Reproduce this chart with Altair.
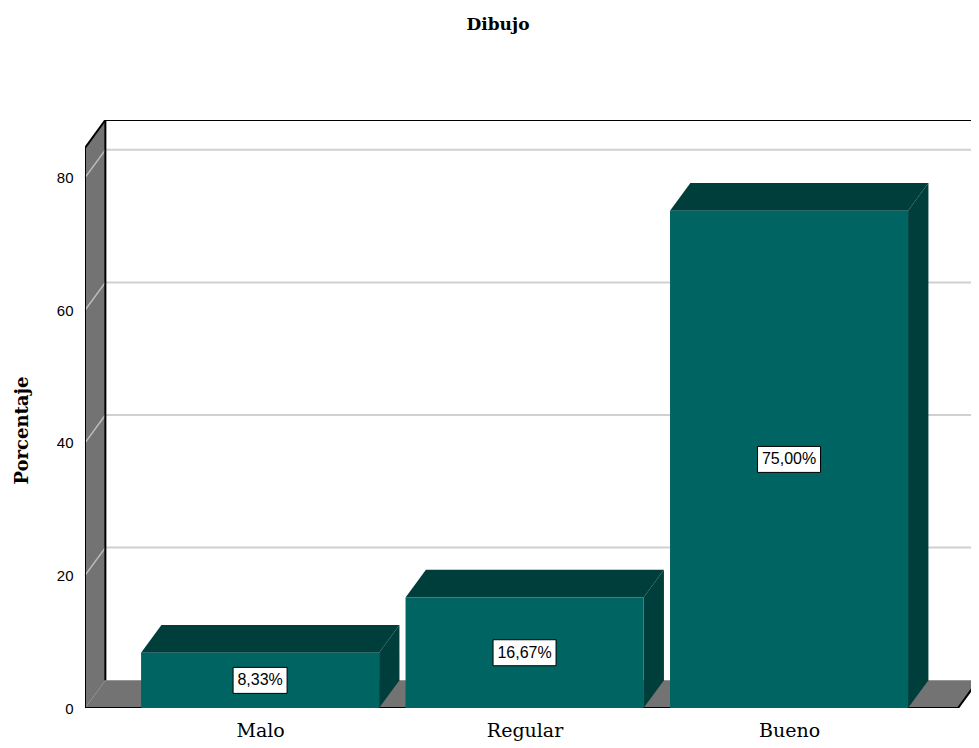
import json
import altair as alt
import pandas as pd

# ---- data ----
categories = ["Malo", "Regular", "Bueno"]
percentages = [8.33, 16.67, 75.00]
y_ticks = [0, 20, 40, 60, 80]
title_text = "Dibujo"
y_title = "Porcentaje"

# ---- geometry / style constants ----
W, H = 886, 588
XMIN, XMAX = -0.662, 2.688
YMAX = 88.7
DX = 0.077   # depth offset in x units (~20px)
DY = 4.2     # depth offset in y units (~28px)
HALF = 0.45
XW = XMIN
XF = 2.639
YTOP = YMAX - DY
PXX = W / (XMAX - XMIN)
PXY = H / YMAX

FRONT = "#006462"
DARK = "#003e3c"
WALL = "#737373"
GRID = "#d0d0d0"
SERIF = "DejaVu Serif"

xs = alt.Scale(domain=[XMIN, XMAX], nice=False, zero=False)
ys = alt.Scale(domain=[0, YMAX], nice=False, zero=False)


def X(f, **kw):
    kw.setdefault("axis", None)
    return alt.X(f, type="quantitative", scale=xs, stack=None, **kw)


def Y(f, **kw):
    kw.setdefault("axis", None)
    return alt.Y(f, type="quantitative", scale=ys, stack=None, **kw)


labels = [f"{v:.2f}".replace(".", ",") + "%" for v in percentages]

front_df = pd.DataFrame({
    "cat": categories,
    "x0": [i - HALF for i in range(len(categories))],
    "x1": [i + HALF for i in range(len(categories))],
    "v": percentages,
})

top_rows, side_rows = [], []
for i, (c, v) in enumerate(zip(categories, percentages)):
    top_rows.append({"cat": c, "y": v, "xa": i - HALF, "xb": i + HALF})
    top_rows.append({"cat": c, "y": v + DY, "xa": i - HALF + DX, "xb": i + HALF + DX})
    side_rows.append({"cat": c, "x": i + HALF, "ya": 0, "yb": v})
    side_rows.append({"cat": c, "x": i + HALF + DX, "ya": DY, "yb": v + DY})
top_df = pd.DataFrame(top_rows)
side_df = pd.DataFrame(side_rows)

wall_df = pd.DataFrame({"x": [XW, XW + DX], "ya": [0, DY], "yb": [YTOP, YMAX]})
floor_df = pd.DataFrame({"y": [0, DY], "xa": [XW, XW + DX], "xb": [XF, XF + DX]})

grid_back = pd.DataFrame({"x": XW + DX, "x2": XMAX, "y": [v + DY for v in y_ticks[1:]]})
grid_diag = pd.DataFrame({"x": XW, "x2": XW + DX,
                          "y": list(y_ticks[1:]), "y2": [v + DY for v in y_ticks[1:]]})

border_df = pd.DataFrame([
    {"x": XW + DX, "y": YMAX, "x2": XMAX, "y2": YMAX},
    {"x": XW + DX, "y": DY, "x2": XW + DX, "y2": YMAX},
    {"x": XW, "y": 0, "x2": XW, "y2": YTOP},
    {"x": XW, "y": YTOP, "x2": XW + DX, "y2": YMAX},
    {"x": XW, "y": 0, "x2": XF, "y2": 0},
    {"x": XF, "y": 0, "x2": XF + DX, "y2": DY},
])

lab_df = pd.DataFrame({
    "xc": list(range(len(categories))),
    "yc": [v / 2 for v in percentages],
    "xa": [i - (9 * len(t) + 9) / 2 / PXX for i, t in enumerate(labels)],
    "xb": [i + (9 * len(t) + 9) / 2 / PXX for i, t in enumerate(labels)],
    "ya": [v / 2 - 13 / PXY for v in percentages],
    "yb": [v / 2 + 13 / PXY for v in percentages],
    "label": labels,
})

# ---- layers ----
gback = alt.Chart(grid_back).mark_rule(color=GRID, strokeWidth=2, clip=True).encode(
    x=X("x"), x2="x2", y=Y("y"))

wall = alt.Chart(wall_df).mark_area(color=WALL, opacity=1).encode(
    x=X("x"),
    y=Y("ya", axis=alt.Axis(values=y_ticks, title=y_title, grid=False, domain=False,
                            ticks=False, labelPadding=12, labelFont="Liberation Sans",
                            labelFontSize=15, labelColor="black",
                            titleFont=SERIF, titleFontSize=18,
                            titleFontWeight="bold", titleColor="black",
                            titleX=-63, titleY=310, titleBaseline="middle",
                            titleAlign="center")),
    y2="yb")

gdiag = alt.Chart(grid_diag).mark_rule(color="#bdbdbd", strokeWidth=1.5).encode(
    x=X("x"), x2="x2", y=Y("y"), y2="y2")

floor = alt.Chart(floor_df).mark_area(color=WALL, opacity=1, orient="horizontal", clip=True).encode(
    y=Y("y"), x=X("xa"), x2="xb")

borders = alt.Chart(border_df).mark_rule(color="black", strokeWidth=2, clip=True).encode(
    x=X("x"), x2="x2", y=Y("y"), y2="y2")

top = alt.Chart(top_df).mark_area(color=DARK, opacity=1, orient="horizontal").encode(
    y=Y("y"), x=X("xa"), x2="xb", detail="cat:N")

side = alt.Chart(side_df).mark_area(color=DARK, opacity=1).encode(
    x=X("x"), y=Y("ya"), y2="yb", detail="cat:N")

front = alt.Chart(front_df).mark_rect(color=FRONT).encode(
    x=X("x0", axis=alt.Axis(values=list(range(len(categories))),
                            labelExpr=json.dumps(categories) + "[datum.value]",
                            title=None, grid=False, domain=False, ticks=False,
                            labelPadding=13, labelFont=SERIF,
                            labelFontSize=19, labelColor="black", labelFlush=False)),
    x2="x1",
    y=Y("v"),
    y2=alt.datum(0),
)

boxes = alt.Chart(lab_df).mark_rect(fill="white", stroke="black", strokeWidth=1).encode(
    x=X("xa"), x2="xb", y=Y("ya"), y2="yb")

texts = alt.Chart(lab_df).mark_text(font="Liberation Sans", fontSize=16, color="black",
                                    baseline="middle", align="center").encode(
    x=X("xc"), y=Y("yc"), text="label:N")

chart = alt.layer(gback, wall, gdiag, floor, borders, side, top, front, boxes, texts).resolve_axis(
    x="independent", y="independent"
).properties(
    width=W, height=H,
    autosize=alt.AutoSizeParams(type="none"),
    padding={"left": 77, "top": 112, "right": 0, "bottom": 38},
    title=alt.TitleParams(title_text, font=SERIF, fontSize=17,
                          fontWeight="bold", color="black", dx=-30, offset=86,
                          anchor="middle"),
    background="white",
).configure_view(stroke=None)

chart.save("out.html", embed_options={"renderer": "svg", "actions": False})
